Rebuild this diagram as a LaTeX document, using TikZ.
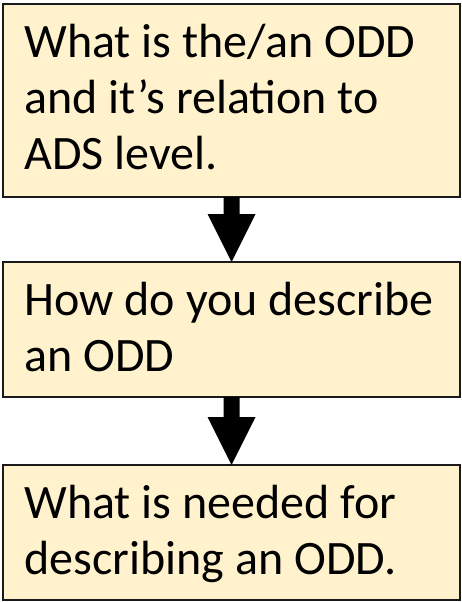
\documentclass[tikz,border=0pt]{standalone}
\usepackage{fontspec}
\setmainfont{Carlito}
\usetikzlibrary{calc}
\definecolor{boxfill}{HTML}{FFF2CC}
\definecolor{boxline}{HTML}{1A1A1A}
\newcommand{\boxcontent}[2]{\parbox[t][#1][t]{414pt}{\raggedright\rule{0pt}{53.5pt}#2}}
\tikzset{
  stepbox/.style={draw=boxline, fill=boxfill, line width=1.3pt, anchor=north west,
    inner xsep=21pt, inner ysep=0pt, outer sep=0pt, minimum width=457pt,
    font=\fontsize{48}{56}\selectfont},
  blockarrow/.style={fill=black}
}
\begin{document}
\begin{tikzpicture}[x=1pt,y=-1pt]
\useasboundingbox (0,0) rectangle (462,602);
\node[stepbox, minimum height=193pt] (b1) at (3,4)
  {\boxcontent{193pt}{What is the/an ODD\\and it’s relation to\\ADS level.}};
\node[stepbox, minimum height=135pt] (b2) at (3,262)
  {\boxcontent{135pt}{How do you describe\\an ODD}};
\node[stepbox, minimum height=135pt] (b3) at (3,465)
  {\boxcontent{135pt}{What is needed for\\describing an ODD.}};
\fill[blockarrow] ($(b1.south)+(-8,0)$) -- ($(b1.south)+(8,0)$) -- ($(b2.north)+(8,-48)$)
  -- ($(b2.north)+(24,-48)$) -- (b2.north) -- ($(b2.north)+(-24,-48)$) -- ($(b2.north)+(-8,-48)$) -- cycle;
\fill[blockarrow] ($(b2.south)+(-8,0)$) -- ($(b2.south)+(8,0)$) -- ($(b3.north)+(8,-48)$)
  -- ($(b3.north)+(24,-48)$) -- (b3.north) -- ($(b3.north)+(-24,-48)$) -- ($(b3.north)+(-8,-48)$) -- cycle;
\end{tikzpicture}
\end{document}
